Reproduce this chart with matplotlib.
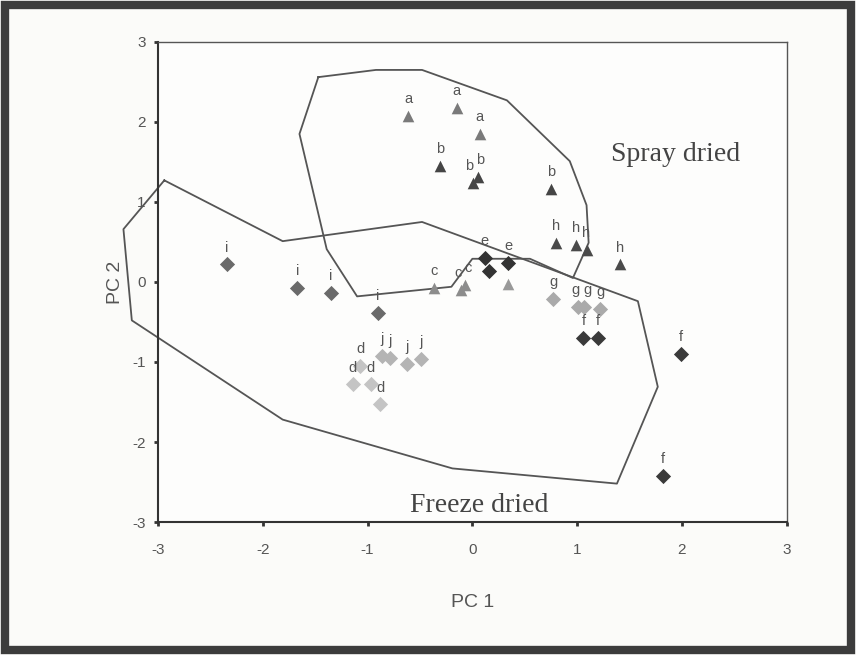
import matplotlib.pyplot as plt
from matplotlib.patches import Rectangle

plt.rcParams['font.family'] = ['Liberation Sans', 'DejaVu Sans']
plt.rcParams['axes.unicode_minus'] = False

# spray dried samples (triangles)
a_x = [-0.61, -0.15, 0.07]
a_y = [2.08, 2.18, 1.85]
b_x = [-0.31, 0.01, 0.05, 0.75]
b_y = [1.45, 1.24, 1.31, 1.16]
h_x = [0.80, 0.99, 1.09, 1.41]
h_y = [0.49, 0.46, 0.40, 0.22]
c_x = [-0.37, -0.11, -0.07]
c_y = [-0.07, -0.10, -0.04]
et_x = [0.34]
et_y = [-0.02]

# freeze dried samples (diamonds)
ed_x = [0.12, 0.16, 0.34]
ed_y = [0.30, 0.14, 0.24]
i_x = [-2.34, -1.67, -1.35, -0.90]
i_y = [0.22, -0.07, -0.14, -0.39]
d_x = [-1.07, -1.14, -0.97, -0.88]
d_y = [-1.05, -1.28, -1.28, -1.53]
j_x = [-0.86, -0.79, -0.62, -0.49]
j_y = [-0.92, -0.95, -1.02, -0.96]
g_x = [0.77, 1.01, 1.07, 1.22]
g_y = [-0.21, -0.31, -0.31, -0.34]
f_x = [1.06, 1.20, 1.99, 1.82]
f_y = [-0.70, -0.70, -0.90, -2.42]

# hand drawn group outlines
spray_x = [-1.47, -0.92, -0.48, 0.33, 0.93, 1.09, 1.11, 0.96, 0.55, 0.0, -0.20, -1.10, -1.39, -1.65, -1.47]
spray_y = [2.56, 2.65, 2.65, 2.27, 1.51, 0.96, 0.49, 0.05, 0.29, 0.29, -0.06, -0.18, 0.41, 1.85, 2.56]
freeze_x = [-2.94, -1.81, -0.48, 1.58, 1.77, 1.38, -0.19, -1.81, -3.25, -3.33, -2.94]
freeze_y = [1.27, 0.51, 0.75, -0.24, -1.31, -2.52, -2.33, -1.72, -0.48, 0.66, 1.27]

fig = plt.figure(figsize=(8.56, 6.55), dpi=100)
fig.patch.set_facecolor('#fbfbf9')
fig.patches.append(Rectangle((0.006, 0.008), 0.988, 0.984, transform=fig.transFigure,
                             fill=False, lw=6, ec='#3c3c3c'))
ax = fig.add_axes([0.1846, 0.203, 0.7344, 0.733])
ax.set_facecolor('#fdfdfc')

ax.plot(spray_x, spray_y, color='#555555', lw=1.3, clip_on=False, zorder=1)
ax.plot(freeze_x, freeze_y, color='#555555', lw=1.3, clip_on=False, zorder=1)

groups = [
    ('a', a_x, a_y, '^', '#7a7a7a'),
    ('b', b_x, b_y, '^', '#454545'),
    ('h', h_x, h_y, '^', '#4a4a4a'),
    ('c', c_x, c_y, '^', '#8c8c8c'),
    ('e', et_x, et_y, '^', '#999999'),
    ('i', i_x, i_y, 'D', '#6a6a6a'),
    ('d', d_x, d_y, 'D', '#c4c4c4'),
    ('j', j_x, j_y, 'D', '#b4b4b4'),
    ('g', g_x, g_y, 'D', '#aaaaaa'),
    ('f', f_x, f_y, 'D', '#3a3a3a'),
    ('e', ed_x, ed_y, 'D', '#333333'),
]
# small nudges for labels that sit on top of each other
nudge = {('b', 1): -3, ('b', 2): 2, ('c', 1): -2, ('c', 2): 2,
         ('g', 1): -2, ('g', 2): 2}
for lab, xs, ys, m, col in groups:
    ax.scatter(xs, ys, marker=m, s=70 if m == '^' else 60, color=col, lw=0, zorder=3)
    for k, (x, y) in enumerate(zip(xs, ys)):
        if lab == 'e' and (m == '^' or k == 1):
            continue
        dx = nudge.get((lab, k), 0)
        ax.annotate(lab, (x, y), xytext=(dx, 7), textcoords='offset points',
                    ha='center', va='bottom', fontsize=10.5, color='#555555')

ax.text(1.94, 1.59, 'Spray dried', family='Liberation Serif', fontsize=20,
        color='#444444', ha='center', va='center')
ax.text(0.07, -2.79, 'Freeze dried', family='Liberation Serif', fontsize=20,
        color='#444444', ha='center', va='center')

ax.set_xlim(-3, 3)
ax.set_ylim(-3, 3)
ax.set_xticks(range(-3, 4))
ax.set_yticks(range(-3, 4))
ax.tick_params(direction='out', length=3, width=2, color='#333333',
               labelsize=11, labelcolor='#555555')
ax.tick_params(axis='x', pad=12)
ax.tick_params(axis='y', pad=6)
for s in ['left', 'bottom']:
    ax.spines[s].set_color('#333333')
    ax.spines[s].set_linewidth(1.5)
for s in ['top', 'right']:
    ax.spines[s].set_color('#555555')
    ax.spines[s].set_linewidth(1.0)

ax.set_xlabel('PC 1', fontsize=14, color='#555555', labelpad=27)
ax.set_ylabel('PC 2', fontsize=14, color='#555555', labelpad=6)

plt.savefig('out.png', dpi=100)
plt.close()
